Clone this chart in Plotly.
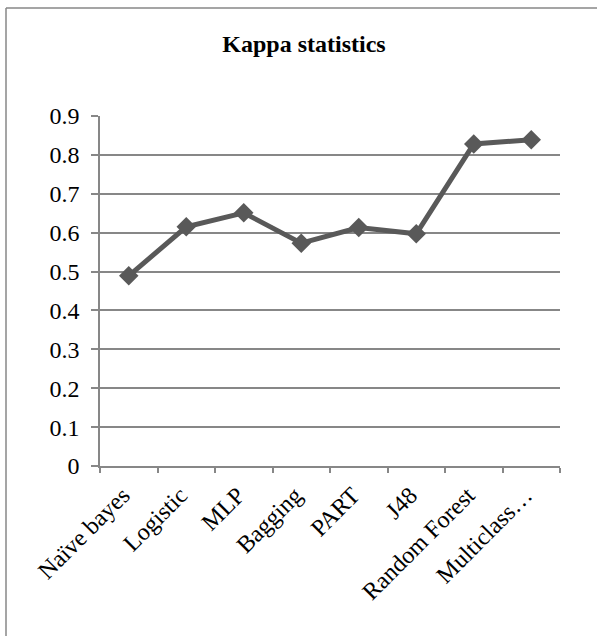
import plotly.graph_objects as go

# Classifier names and their Kappa statistic values
classifiers = ["Naïve bayes", "Logistic", "MLP", "Bagging", "PART", "J48",
               "Random Forest", "Multiclass…"]
kappa = [0.489, 0.615, 0.651, 0.573, 0.613, 0.597, 0.828, 0.839]

y_ticks = [0, 0.1, 0.2, 0.3, 0.4, 0.5, 0.6, 0.7, 0.8, 0.9]
y_tick_text = ["0", "0.1", "0.2", "0.3", "0.4", "0.5", "0.6", "0.7", "0.8", "0.9"]

W, H = 597, 636
L, R, T, B = 100, 37, 116, 170
pw, ph = W - L - R, H - T - B

def px_x(x):
    return (x - L) / pw

def px_y(y):
    return (H - B - y) / ph

GRID = "#878787"
SERIES = "#595959"
FONT = "Liberation Serif"

fig = go.Figure()
fig.add_trace(go.Scatter(
    x=classifiers, y=kappa, mode="lines+markers",
    line=dict(color=SERIES, width=5),
    marker=dict(symbol="diamond", size=15, color=SERIES),
    showlegend=False, cliponaxis=False,
))

fig.update_layout(
    width=W, height=H,
    margin=dict(l=L, r=R, t=T, b=B, pad=0),
    paper_bgcolor="white", plot_bgcolor="white",
    font=dict(family=FONT, color="black", size=24),
    title=dict(text="<b>Kappa statistics</b>", x=304 / W, xref="container",
               y=1 - 44 / H, yref="container", xanchor="center", yanchor="middle",
               font=dict(family=FONT, size=24, color="black")),
    xaxis=dict(
        type="category", range=[-0.5, 7.5], tickson="boundaries",
        ticks="outside", ticklen=5, tickwidth=1.5, tickcolor=GRID,
        showline=True, linecolor=GRID, linewidth=1.5,
        showgrid=False, tickangle=-45, ticklabelshift=-6, ticklabelstandoff=4,
        tickfont=dict(family=FONT, size=24, color="black"),
    ),
    yaxis=dict(
        range=[0, 0.9], tickvals=y_ticks, ticktext=y_tick_text,
        ticks="outside", ticklen=7, tickwidth=1.5, tickcolor=GRID,
        showline=True, linecolor=GRID, linewidth=1.5, ticklabelstandoff=7,
        showgrid=True, gridcolor=GRID, gridwidth=1.5, zeroline=False,
        tickfont=dict(family=FONT, size=24, color="black"),
    ),
    shapes=[
        # chart frame (top and left edges)
        dict(type="line", xref="paper", yref="paper",
             x0=px_x(6), x1=px_x(W + 2), y0=px_y(8), y1=px_y(8),
             line=dict(color=GRID, width=1.5)),
        dict(type="line", xref="paper", yref="paper",
             x0=px_x(6), x1=px_x(6), y0=px_y(8), y1=px_y(H + 2),
             line=dict(color=GRID, width=1.5)),
    ],
)

fig.write_html("out.html")
